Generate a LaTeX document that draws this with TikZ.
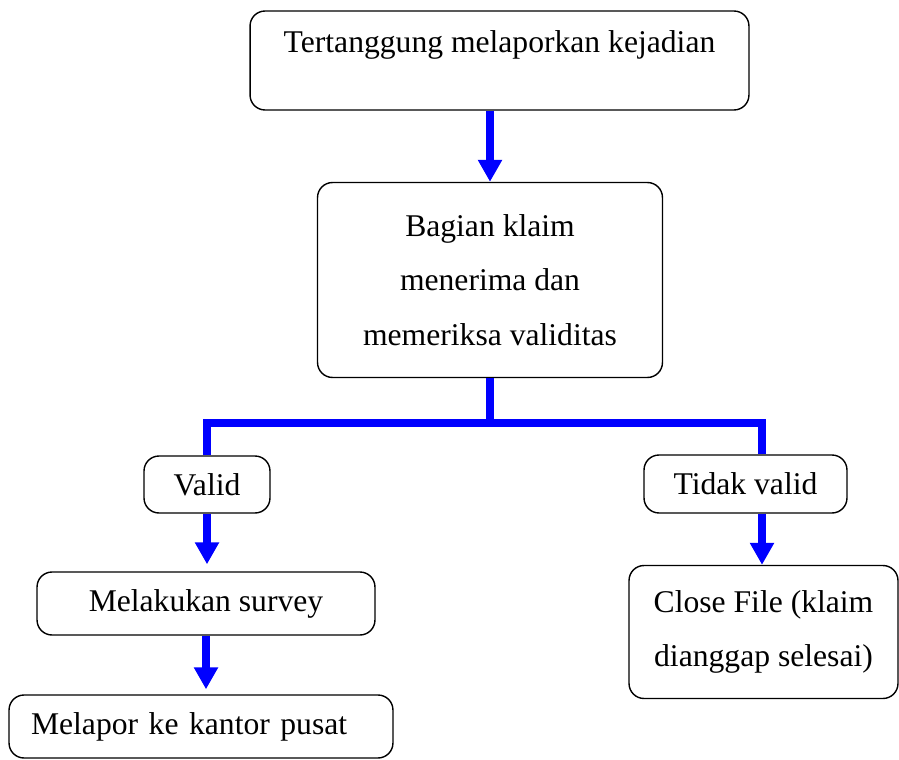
\documentclass[tikz,border=0pt]{standalone}
\usepackage{fontspec}
\setmainfont{Liberation Serif}
\usepackage{xcolor}
\usepackage{tikz}
\usetikzlibrary{arrows.meta,calc}

\tikzset{
 kotak/.style = {draw, thick, rounded corners = 0.3cm, fill = white,
                 align = center, font = \fontsize{18}{31}\selectfont},
 garis/.style = {line width = 4pt, color = blue},
 panah/.style = {garis, -{Triangle[width = 0.46cm, length = 0.44cm]}}
}

\begin{document}
\begin{tikzpicture}[x = 0.02cm, y = -0.02cm]

\useasboundingbox (0,0) rectangle (899,760);

\node[kotak, minimum width = 9.98cm, minimum height = 1.98cm,
      text height = 0.45cm, text depth = 0.75cm] (lapor)
 at (499.5,60.5) {Tertanggung melaporkan kejadian};

\node[kotak, minimum width = 6.9cm, minimum height = 3.9cm] (klaim)
 at (490,280) {Bagian klaim\\ menerima dan\\ memeriksa validitas};

\node[kotak, minimum width = 2.52cm, minimum height = 1.14cm] (valid)
 at (207,484.5) {Valid};

\node[kotak, minimum width = 4.06cm, minimum height = 1.16cm] (tidak)
 at (745.5,484) {Tidak valid};

\node[kotak, minimum width = 6.76cm, minimum height = 1.26cm] (survey)
 at (206,603.5) {Melakukan survey};

\node[kotak, minimum width = 5.38cm, minimum height = 2.66cm] (close)
 at (763.5,632) {Close File (klaim\\ dianggap selesai)};

\node[kotak, minimum width = 7.68cm, minimum height = 1.26cm,
      text width = 6.8cm, align = left] (pusat)
 at (201,726.5) {Melapor ke kantor pusat};

\coordinate (cabangL) at (207,423);
\coordinate (cabangR) at (762,423);

\draw[panah] (klaim.north |- lapor.south) -- (klaim.north);

\draw[garis] (klaim.south) -- (klaim.south |- cabangL);
\draw[garis] (valid.north) -- (cabangL) -- (cabangR) -- (cabangR |- tidak.north);

\draw[panah, shorten > = 0.14cm] (valid.south) -- (valid.south |- survey.north);
\draw[panah] (cabangR |- tidak.south) -- (cabangR |- close.north);
\draw[panah, shorten > = 0.1cm] (survey.south) -- (survey.south |- pusat.north);

\end{tikzpicture}
\end{document}
